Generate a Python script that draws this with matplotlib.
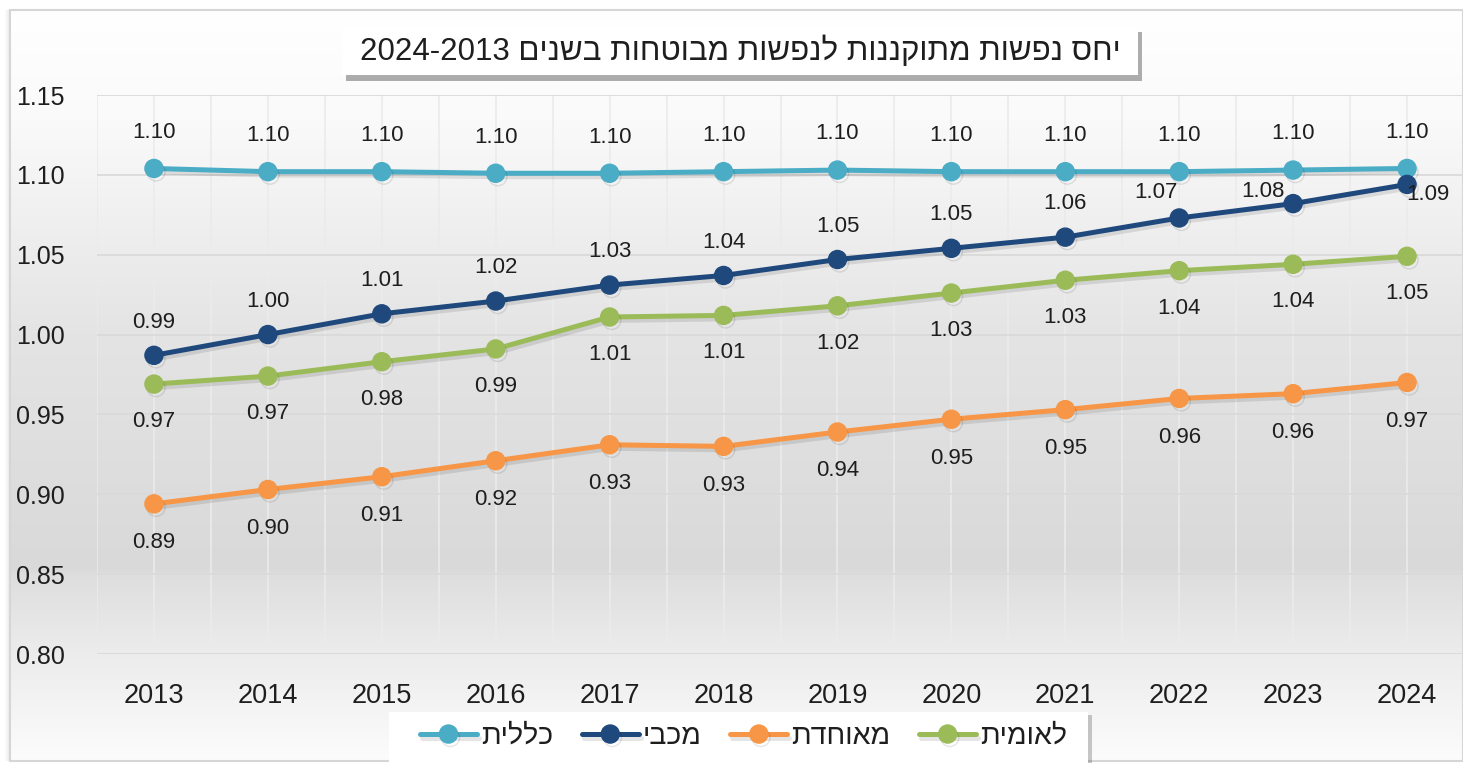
import numpy as np
import matplotlib
matplotlib.use("Agg")
import matplotlib.pyplot as plt
import matplotlib.patheffects as pe
from matplotlib.patches import Rectangle
from matplotlib.ticker import MultipleLocator, FixedLocator, FormatStrFormatter

plt.rcParams['font.family'] = ['Liberation Sans Narrow', 'Liberation Sans', 'DejaVu Sans']

# data
years = [2013, 2014, 2015, 2016, 2017, 2018, 2019, 2020, 2021, 2022, 2023, 2024]
clalit = [1.104, 1.102, 1.102, 1.101, 1.101, 1.102, 1.103, 1.102, 1.102, 1.102, 1.103, 1.104]
maccabi = [0.987, 1.000, 1.013, 1.021, 1.031, 1.037, 1.047, 1.054, 1.061, 1.073, 1.082, 1.094]
meuhedet = [0.894, 0.903, 0.911, 0.921, 0.931, 0.930, 0.939, 0.947, 0.953, 0.960, 0.963, 0.970]
leumit = [0.969, 0.974, 0.983, 0.991, 1.011, 1.012, 1.018, 1.026, 1.034, 1.040, 1.044, 1.049]
names = ["כללית", "מכבי", "מאוחדת", "לאומית"]
title = "יחס נפשות מתוקננות לנפשות מבוטחות בשנים"
title_years = "2024-2013"

W, H = 1463, 763
colors = ['#4bacc6', '#1f497d', '#f79646', '#9bbb59']


def rtl(s):
    # matplotlib has no bidi, so reverse Hebrew for display
    return s[::-1]


def fx(px):
    return px / W


def fy(py):
    return 1 - py / H


fig = plt.figure(figsize=(W / 100, H / 100), dpi=100, facecolor='white')

# chart area background (vertical gradient, white -> gray -> white)
bg = fig.add_axes([fx(10), fy(761), fx(1463 - 10), (761 - 10) / H], zorder=-5)
rows = np.arange(10, 762)
stops_y = [10, 120, 334, 568, 576, 654, 761]
stops_v = [255, 250, 228, 217, 222, 236, 252]
shade = np.interp(rows, stops_y, stops_v) / 255.0
grad = np.repeat(shade[:, None, None], 3, axis=2)
bg.imshow(grad, aspect='auto', extent=[0, 1, 0, 1])
bg.set_axis_off()
# soft shadow left of the chart area
for k, a in enumerate([0.10, 0.07, 0.05, 0.03, 0.02]):
    fig.add_artist(Rectangle((fx(9 - k), fy(761)), fx(1), (761 - 10) / H,
                             transform=fig.transFigure, facecolor='k', edgecolor='none',
                             alpha=a, zorder=-6))
border = Rectangle((fx(10), fy(761)), fx(1463 - 10), (761 - 10) / H,
                   transform=fig.transFigure, fill=False, edgecolor='#d6d6d6', lw=1.5,
                   zorder=-4)
fig.add_artist(border)

ax = fig.add_axes([fx(97), fy(654), fx(1464 - 97), (654 - 95) / H])
ax.patch.set_alpha(0)

x = np.arange(len(years))
series = [clalit, maccabi, meuhedet, leumit]
for vals, name, col in zip(series, names, colors):
    ax.plot(x, vals, color=col, lw=3.6, marker='o', markersize=13,
            label=rtl(name), zorder=3, solid_capstyle='round',
            path_effects=[pe.SimpleLineShadow(offset=(1.5, -2.5), alpha=0.1), pe.Normal()])

# data labels (offsets in points)
offsets = [
    [(0, 26)] * 12,
    [(0, 24)] * 9 + [(-17, 18), (-22, 9), (15, -7)],
    [(0, -28)] * 12,
    [(0, -27)] * 12,
]
for vals, offs in zip(series, offsets):
    for i, v in enumerate(vals):
        ax.annotate(f"{v:.2f}", (x[i], v), xytext=offs[i], textcoords='offset points',
                    ha='center', va='center', fontsize=16, color='#1e1e1e', zorder=5)

ax.set_xlim(-0.5, len(years) - 0.5)
ax.set_ylim(0.80, 1.15)
ax.set_xticks(x)
ax.set_xticklabels([str(y) for y in years])
ax.xaxis.set_minor_locator(FixedLocator(np.arange(-0.5, len(years), 1.0)))
ax.yaxis.set_major_locator(MultipleLocator(0.05))
ax.yaxis.set_major_formatter(FormatStrFormatter('%.2f'))
ax.tick_params(axis='y', length=0, pad=23, labelsize=18, labelcolor='#1e1e1e')
ax.tick_params(axis='x', which='both', length=0, pad=21, labelsize=19.5, labelcolor='#1e1e1e')
ax.grid(axis='y', which='major', color='#dadada', lw=1.3)
ax.grid(axis='x', which='both', color='#ebebeb', lw=1.2)
for s in ax.spines.values():
    s.set_visible(False)
ax.set_axisbelow(True)

# title box
tbox = Rectangle((fx(342), fy(75)), fx(1138 - 342), (75 - 26) / H,
                 transform=fig.transFigure, facecolor='white', edgecolor='none',
                 path_effects=[pe.SimplePatchShadow(offset=(3, -4), alpha=0.45), pe.Normal()],
                 zorder=4)
fig.add_artist(tbox)
fig.text(fx(740), fy(51), title_years + " " + rtl(title), ha='center', va='center',
         fontsize=22.5, color='#1e1e1e', zorder=5)

# legend box drawn separately (Excel pads it more on the left)
lbox = Rectangle((fx(389), fy(775)), fx(1088 - 389), (775 - 712) / H,
                 transform=fig.transFigure, facecolor='white', edgecolor='none',
                 path_effects=[pe.SimplePatchShadow(offset=(3, -2), alpha=0.3), pe.Normal()],
                 zorder=-1)
fig.add_artist(lbox)
leg = ax.legend(loc='center left', bbox_to_anchor=(fx(420), fy(737)),
                bbox_transform=fig.transFigure, ncol=4, fontsize=20.5, frameon=False,
                borderaxespad=0, borderpad=0, handlelength=2.0, handletextpad=0.15,
                columnspacing=1.0, numpoints=1)
for t in leg.get_texts():
    t.set_color('#1e1e1e')

fig.savefig("out.png", dpi=100)
